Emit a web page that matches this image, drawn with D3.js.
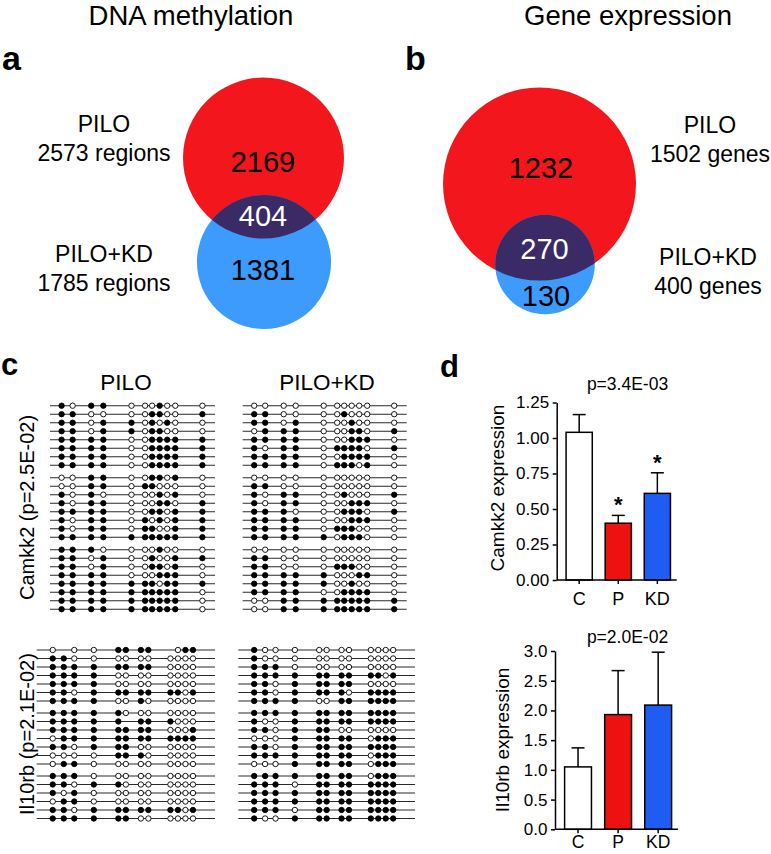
<!DOCTYPE html>
<html><head><meta charset="utf-8">
<script src="https://cdn.jsdelivr.net/npm/d3@7"></script>
<style>
body{margin:0;background:#fff}
svg{display:block}
text{font-family:"Liberation Sans", Arial, Helvetica, sans-serif;fill:#000}
</style>
</head><body>
<svg id="fig" width="771" height="854"></svg>
<script>
// ---------------- DATA ----------------
const panelTitles = ["DNA methylation", "Gene expression"];
const setNames = ["PILO", "PILO+KD"];

const methTotals = [2573, 1785];
const methUnique = [2169, 1381];
const methShared = 404;
const methUnit = "regions";

const exprTotals = [1502, 400];
const exprUnique = [1232, 130];
const exprShared = 270;
const exprUnit = "genes";

const groups = ["C", "P", "KD"];
const camkk2Means = [1.04, 0.40, 0.61];
const camkk2Errs = [0.125, 0.055, 0.145];
const camkk2Stars = ["", "*", "*"];
const camkk2Ticks = [0, 0.25, 0.5, 0.75, 1.0, 1.25];
const camkk2PText = "p=3.4E-03";

const il10rbMeans = [1.05, 1.93, 2.09];
const il10rbErrs = [0.32, 0.74, 0.89];
const il10rbStars = ["", "", ""];
const il10rbTicks = [0, 0.5, 1.0, 1.5, 2.0, 2.5, 3.0];
const il10rbPText = "p=2.0E-02";

// bisulfite clones: 1 = methylated CpG, 0 = unmethylated, - = no call
const camkk2Label = "Camkk2 (p=2.5E-02)";
const camkk2Sites = [11.5, 22.5, 41, 53, 81, 94.5, 101.5, 109, 116.5, 124.5, 151.5];
const camkk2Span = 164;
const camkk2Groups = [8, 8, 8];
const camkk2Pilo = [
  "10110001000","11000011001","11011010100","11011011000",
  "11110011111","11110011111","11110011111","11110011111",
  "00110011010","00110110000","10100001010","10110001101",
  "11110011011","10110101011","10110110011","11111111111",
  "11100001000","11010010011","11010011010","11110001110",
  "11111110111","11111111110","11111111110","11111111110"
];
const camkk2Kd = [
  "00000000000","11000010000","11010001000","01110001101",
  "11110001110","10110111101","11110011110","11110111010",
  "00000000000","11000000000","10110010001","10110001110",
  "11100011101","11110001110","11110111000","11111011100",
  "00000000000","11000000000","11000111000","11111000110",
  "11111001000","11110011110","00111111111","00111111111"
];

const il10rbLabel = "Il10rb (p=2.1E-02)";
const il10rbSites = [16, 27, 37.5, 57, 81.5, 89, 104, 111.5, 133.5, 141, 148.5, 156];
const il10rbSpan = 178;
const il10rbGroups = [7, 7, 6];
const il10rbPilo = [
  "0-001111-011","110000000000","111111110000","111100000000",
  "111100000000","110111111101","111100100000",
  "111110000000","11111-111000","111111110001","011111111111",
  "110111000000","000011100000","011000000000",
  "111000000000","110110000000","101000000000","011000000000",
  "110111111101","111111000000"
];
const il10rbKd = [
  "100000000000","100000000000","111000000000","111111111101",
  "110111110000","110111101111","111100111111",
  "111111111111","100111111111","110111000000","000111110111",
  "110111111111","111111110111","000111110111",
  "111111110111","111011111111","111111111111","111111111111",
  "111011111111","100111111111"
];

// ---------------- STYLE ----------------
const RED = "#f4161d", BLUE = "#3d9bfe", LENS = "#3a2b67";
const BAR_RED = "#ee1111", BAR_BLUE = "#1f5cf2";

const svg = d3.select("#fig");

// ---------------- TITLES & PANEL LETTERS ----------------
svg.append("text").attr("x", 191).attr("y", 25).attr("text-anchor", "middle")
  .style("font-size", "27.5px").text(panelTitles[0]);
svg.append("text").attr("x", 628).attr("y", 25).attr("text-anchor", "middle")
  .style("font-size", "27.5px").text(panelTitles[1]);

const letters = [["a", 2, 70, 34], ["b", 405, 70, 34], ["c", 1, 375, 31], ["d", 440, 377, 31]];
letters.forEach(([t, x, y, s]) => svg.append("text").attr("x", x).attr("y", y)
  .style("font-size", s + "px").style("font-weight", "bold").text(t));

// ---------------- VENN ----------------
function venn(opts) {
  const r = d3.scaleSqrt().domain([0, d3.max(opts.totals)]).range([0, opts.rMax]);
  const g = svg.append("g");
  const c1 = opts.centers[0], c2 = opts.centers[1];
  const r1 = r(opts.totals[0]), r2 = r(opts.totals[1]);
  g.append("circle").attr("cx", c1[0]).attr("cy", c1[1]).attr("r", r1).attr("fill", RED);
  g.append("circle").attr("cx", c2[0]).attr("cy", c2[1]).attr("r", r2).attr("fill", BLUE);
  const cid = "clip" + opts.id;
  svg.append("clipPath").attr("id", cid).append("circle")
    .attr("cx", c1[0]).attr("cy", c1[1]).attr("r", r1);
  g.append("circle").attr("cx", c2[0]).attr("cy", c2[1]).attr("r", r2)
    .attr("fill", LENS).attr("clip-path", `url(#${cid})`);
  const fmt = d3.format("d");
  opts.numPos.forEach((p, i) => {
    const v = [opts.unique[0], opts.shared, opts.unique[1]][i];
    g.append("text").attr("x", p[0]).attr("y", p[1]).attr("text-anchor", "middle")
      .style("font-size", "29px").style("fill", i === 1 ? "#fff" : "#000").text(fmt(v));
  });
  opts.labelPos.forEach((p, i) => {
    g.append("text").attr("x", p[0]).attr("y", p[1]).attr("text-anchor", "middle")
      .style("font-size", "23px").text(setNames[i]);
    g.append("text").attr("x", p[0]).attr("y", p[1] + 28.5).attr("text-anchor", "middle")
      .style("font-size", "23px").text(fmt(opts.totals[i]) + " " + opts.unit);
  });
}
venn({id: "a", totals: methTotals, unique: methUnique, shared: methShared, unit: methUnit,
  rMax: 80.5, centers: [[263.5, 158], [264, 262]],
  numPos: [[263, 172], [263, 226], [263, 280]],
  labelPos: [[104, 132], [104, 262]]});
venn({id: "b", totals: exprTotals, unique: exprUnique, shared: exprShared, unit: exprUnit,
  rMax: 96.5, centers: [[539.5, 184], [545, 264.5]],
  numPos: [[541, 178], [544.5, 259], [546, 306]],
  labelPos: [[710, 133], [708, 265]]});

// ---------------- PANEL C: LOLLIPOPS ----------------
svg.append("text").attr("x", 126).attr("y", 390).attr("text-anchor", "middle")
  .style("font-size", "22.5px").text(setNames[0]);
svg.append("text").attr("x", 327).attr("y", 390).attr("text-anchor", "middle")
  .style("font-size", "22.5px").text(setNames[1]);

function lollipop(rows, sites, span, groupSizes, xRange, yTop, step, gap) {
  const x = d3.scaleLinear().domain([0, span]).range(xRange);
  const y = d3.scaleLinear().domain([0, 1]).range([yTop, yTop + step]);
  const groupOf = [];
  groupSizes.forEach((n, gi) => { for (let k = 0; k < n; k++) groupOf.push(gi); });
  const slot = i => i + groupOf[i] * gap / step;
  const g = svg.append("g");
  const rowG = g.selectAll("g.row").data(rows).join("g")
    .attr("transform", (d, i) => `translate(0,${y(slot(i))})`);
  rowG.append("line").attr("x1", x(0)).attr("x2", x(span))
    .attr("stroke", "#2a2a2a").attr("stroke-width", 1.1);
  rowG.selectAll("circle").data(d => d.split("").map((c, j) => ({c, s: sites[j]})).filter(o => o.c !== "-"))
    .join("circle").attr("cx", o => x(o.s)).attr("cy", 0).attr("r", 2.7)
    .attr("fill", o => o.c === "1" ? "#000" : "#fff")
    .attr("stroke", "#000").attr("stroke-width", 0.9);
}
lollipop(camkk2Pilo, camkk2Sites, camkk2Span, camkk2Groups, [50, 215], 405.7, 8.5, 4);
lollipop(camkk2Kd, camkk2Sites, camkk2Span, camkk2Groups, [242.7, 406.7], 405.7, 8.5, 4);
lollipop(il10rbPilo, il10rbSites, il10rbSpan, il10rbGroups, [36.7, 215], 650, 8.5, 3.5);
lollipop(il10rbKd, il10rbSites, il10rbSpan, il10rbGroups, [238.3, 415], 650, 8.5, 3.5);

svg.append("text").attr("transform", "translate(34,507.5) rotate(-90)")
  .attr("text-anchor", "middle").style("font-size", "20px").text(camkk2Label);
svg.append("text").attr("transform", "translate(34,734) rotate(-90)")
  .attr("text-anchor", "middle").style("font-size", "20px").text(il10rbLabel);

// ---------------- PANEL D: BARS ----------------
function barChart(o) {
  const g = svg.append("g");
  const y = d3.scaleLinear().domain([0, d3.max(o.ticks)]).range(o.yRange);
  const x = d3.scaleBand().domain(groups).range(o.xRange).paddingInner(0.33).paddingOuter(0.2).align(0.6);
  const colors = ["#fff", BAR_RED, BAR_BLUE];
  const data = groups.map((k, i) => ({k, m: o.means[i], e: o.errs[i], s: o.stars[i], c: colors[i]}));
  const cx = d => x(d.k) + x.bandwidth() / 2;
  g.selectAll("line.err").data(data).join("line")
    .attr("x1", cx).attr("x2", cx).attr("y1", d => y(d.m)).attr("y2", d => y(d.m + d.e))
    .attr("stroke", "#000").attr("stroke-width", 1.5);
  g.selectAll("line.cap").data(data).join("line")
    .attr("x1", d => cx(d) - 6.5).attr("x2", d => cx(d) + 6.5)
    .attr("y1", d => y(d.m + d.e)).attr("y2", d => y(d.m + d.e))
    .attr("stroke", "#000").attr("stroke-width", 1.5);
  g.selectAll("rect").data(data).join("rect")
    .attr("x", d => x(d.k)).attr("width", x.bandwidth())
    .attr("y", d => y(d.m)).attr("height", d => y(0) - y(d.m))
    .attr("fill", d => d.c).attr("stroke", "#000").attr("stroke-width", 1.5);
  g.selectAll("text.star").data(data.filter(d => d.s)).join("text")
    .attr("x", cx).attr("y", d => y(d.m + d.e) - 3).attr("text-anchor", "middle")
    .style("font-size", "22px").style("font-weight", "bold").text(d => d.s);
  const ya = g.append("g").attr("transform", `translate(${o.xRange[0]},0)`)
    .call(d3.axisLeft(y).tickValues(o.ticks).tickFormat(d3.format(o.fmt)).tickSize(4).tickSizeOuter(0).tickPadding(3.5));
  const xa = g.append("g").attr("transform", `translate(0,${o.yRange[0]})`)
    .call(d3.axisBottom(x).tickSize(4).tickSizeOuter(0).tickPadding(o.xPad));
  [ya, xa].forEach(a => {
    a.select(".domain").attr("stroke", "#000").attr("stroke-width", 1.5);
    a.selectAll(".tick line").attr("stroke", "#000").attr("stroke-width", 1.5);
    a.selectAll("text").style("font-family", '"Liberation Sans", Arial, sans-serif').style("fill", "#000");
  });
  ya.selectAll("text").style("font-size", "17px");
  xa.selectAll("text").style("font-size", o.xFont + "px");
  xa.select(".domain").attr("d", `M${o.xRange[0]},0H${o.xRange[1]}`);
  g.append("text").attr("x", 627.5).attr("y", o.pY).attr("text-anchor", "middle")
    .style("font-size", "17.5px").text(o.pText);
  g.append("text").attr("transform", `translate(${o.labX},${o.labY}) rotate(-90)`)
    .attr("text-anchor", "middle").style("font-size", "19px").text(o.label);
}
barChart({means: camkk2Means, errs: camkk2Errs, stars: camkk2Stars, ticks: camkk2Ticks, fmt: ".2f",
  yRange: [580, 402.5], xRange: [556.7, 676.7], pText: camkk2PText, pY: 390, xPad: 8, xFont: 18,
  label: "Camkk2 expression", labX: 504, labY: 488});
barChart({means: il10rbMeans, errs: il10rbErrs, stars: il10rbStars, ticks: il10rbTicks, fmt: ".1f",
  yRange: [829.3, 651], xRange: [555, 678], pText: il10rbPText, pY: 643.3, xPad: 2.5, xFont: 17.5,
  label: "Il10rb expression", labX: 509, labY: 740});
</script>
</body></html>
